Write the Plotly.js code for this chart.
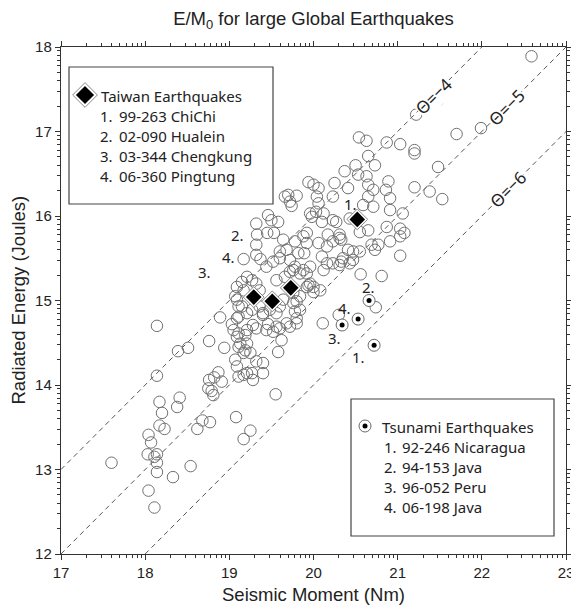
<!DOCTYPE html>
<html><head><meta charset="utf-8">
<script src="https://cdn.plot.ly/plotly-3.0.1.min.js"></script>
<style>html,body{margin:0;padding:0;background:#fff;} #chart{width:571px;height:607px;}</style>
</head><body><div id="chart"></div>
<script>
// ---- data: other global earthquakes (log10 M0 [Nm], log10 E [J]) ----
const otherX = [
17.60,18.04,18.07,18.03,18.14,18.11,18.14,18.14,18.04,18.11,18.33,18.54,18.17,18.23,18.20,18.38,18.17,18.41,18.62,18.68,
18.77,19.08,19.17,19.25,18.14,18.39,18.51,18.14,18.76,18.89,18.94,18.76,18.82,18.87,18.75,18.79,18.91,18.81,19.55,
19.11,19.05,19.09,19.13,19.19,19.25,19.09,19.17,19.27,19.28,19.40,19.40,19.32,19.40,19.44,19.62,19.56,19.68,19.80,19.78,
20.11,20.30,19.03,19.11,19.21,19.46,19.52,19.60,19.72,19.80,19.09,19.19,19.11,19.21,19.28,19.17,19.32,19.07,19.21,19.11,
19.58,19.11,19.21,19.27,19.36,19.40,19.48,19.56,19.60,19.64,19.76,19.84,19.15,19.09,19.07,19.09,19.15,19.17,19.21,19.27,
19.32,19.36,
19.53,19.45,19.58,19.72,19.64,19.68,19.60,19.33,19.32,19.32,19.37,19.17,19.44,19.52,19.60,19.72,19.78,19.82,19.89,19.92,
19.88,19.94,20.00,19.72,19.66,19.56,19.32,19.46,19.78,19.50,19.66,19.70,19.80,20.00,20.06,20.06,20.03,19.96,20.10,19.92,
19.74,20.04,20.12,20.23,20.27,19.98,20.43,20.55,20.65,20.87,21.03,21.08,20.17,20.31,20.33,20.77,20.91,19.88,20.54,20.63,
20.87,21.03,20.65,20.73,20.50,20.53,20.37,20.63,20.65,20.71,20.89,20.86,20.91,20.65,20.71,20.59,20.91,21.06,20.41,20.25,
20.23,19.94,
22.59,21.48,21.22,21.70,21.99,21.20,21.20,21.48,21.20,21.38,21.53,21.03,21.03,20.81,20.56,20.69,20.73,20.47,20.47,20.35,
20.23,20.31,20.10,20.06,20.16,20.23,20.31,19.92,19.92,20.08,20.55,20.41,20.16,20.33,20.43,19.96,20.12,19.84,19.76,19.96,
19.76,19.80,19.84,20.74,20.00
];
const otherY = [
13.08,13.41,13.32,13.18,13.18,13.15,13.08,12.97,12.75,12.55,12.91,13.04,13.52,13.48,13.67,13.74,13.80,13.85,13.48,13.58,
13.56,13.62,13.36,13.46,14.70,14.40,14.44,14.11,14.52,14.80,14.44,14.06,14.09,14.15,13.96,13.93,14.04,13.88,13.89,
14.93,14.65,14.57,14.49,14.41,14.38,14.22,14.12,14.14,14.06,14.26,14.14,14.67,14.85,14.65,14.53,14.69,14.73,14.73,14.87,
14.73,14.83,14.72,14.61,14.65,14.72,14.63,14.67,14.69,14.79,14.79,14.59,14.45,14.49,14.71,14.38,14.28,14.30,14.14,14.10,
14.39,14.81,14.85,14.89,14.93,14.83,14.89,14.85,14.93,15.01,14.97,15.05,14.93,15.01,15.05,15.16,15.22,15.12,15.28,15.24,
15.20,15.12,
15.80,15.80,15.93,16.17,15.72,15.60,15.58,15.78,15.66,15.54,15.49,15.49,15.40,15.46,15.50,15.48,15.40,15.56,15.56,15.68,
15.36,15.18,15.16,15.34,15.28,15.24,15.91,16.01,15.70,15.95,16.23,16.25,16.24,16.37,16.33,16.15,16.05,16.03,15.93,15.80,
16.12,16.23,16.03,15.95,15.93,15.99,15.97,15.81,15.83,15.87,15.85,15.80,15.78,15.78,15.72,15.66,15.70,15.76,16.93,16.89,
16.87,16.85,16.71,16.60,16.60,16.49,16.53,16.47,16.37,16.31,16.41,16.31,16.21,16.23,16.11,16.13,16.07,16.03,16.33,16.39,
16.23,16.40,
17.89,17.37,17.20,16.97,17.04,16.78,16.74,16.58,16.34,16.29,16.20,15.76,15.53,15.29,15.31,15.66,15.60,15.48,15.58,15.50,
15.44,15.42,15.52,15.68,15.64,15.70,15.74,15.32,15.16,15.12,15.58,15.60,15.44,15.46,15.44,15.40,15.36,15.32,15.36,15.20,
15.09,14.99,14.89,14.92,15.10
];
// Taiwan earthquakes (1..4)
const taiwanX = [20.52, 19.29, 19.51, 19.73];
const taiwanY = [15.96, 15.04, 14.99, 15.15];
const taiwanNames = ['99-263 ChiChi', '02-090 Hualein', '03-344 Chengkung', '06-360 Pingtung'];
const taiwanLabelX = [20.44, 19.10, 18.71, 18.99];
const taiwanLabelY = [16.14, 15.78, 15.34, 15.51];
// Tsunami earthquakes (1..4)
const tsunamiX = [20.72, 20.66, 20.34, 20.53];
const tsunamiY = [14.47, 15.00, 14.71, 14.78];
const tsunamiNames = ['92-246 Nicaragua', '94-153 Java', '96-052 Peru', '06-198 Java'];
const tsunamiLabelX = [20.54, 20.65, 20.25, 20.37];
const tsunamiLabelY = [14.33, 15.16, 14.56, 14.91];
// Theta reference lines: log10(E/M0) = theta
const thetas = [-4, -5, -6];
const thetaLabelX = [21.42, 22.29, 22.31];
// axes
const xRange = [17, 23];
const yRange = [12, 18];
const xTickVals = [17, 18, 19, 20, 21, 22, 23];
const yTickVals = [12, 13, 14, 15, 16, 17, 18];

// ---- build ----
const TXT = '"Noto Sans", "Open Sans", sans-serif';
const HEL = '"Liberation Sans", Arial, sans-serif';
function logMinor(a, b) { const v = []; for (let d = a; d < b; d++) for (let k = 2; k <= 9; k++) v.push(d + Math.log10(k)); return v; }

const traces = [];
thetas.forEach(t => {
  const x0 = Math.max(xRange[0], yRange[0] - t), x1 = Math.min(xRange[1], yRange[1] - t);
  traces.push({x: [x0, x1], y: [x0 + t, x1 + t], mode: 'lines', hoverinfo: 'skip', showlegend: false,
    line: {color: '#555', width: 1, dash: '5px,4px'}});
});
traces.push({x: otherX, y: otherY, mode: 'markers', showlegend: false,
  marker: {symbol: 'circle', size: 11.5, color: 'rgba(0,0,0,0)', line: {color: '#707070', width: 1}}});
// Taiwan: outer ring + black diamond
traces.push({x: taiwanX, y: taiwanY, mode: 'markers', showlegend: false,
  marker: {symbol: 'diamond', size: 16, color: '#fff', line: {color: '#888', width: 1}}});
traces.push({x: taiwanX, y: taiwanY, mode: 'markers', showlegend: false,
  marker: {symbol: 'diamond', size: 12, color: '#000', line: {width: 0}}});
// Tsunami: circle + dot
traces.push({x: tsunamiX, y: tsunamiY, mode: 'markers', showlegend: false,
  marker: {symbol: 'circle', size: 12, color: '#fff', line: {color: '#6a6a6a', width: 1}}});
traces.push({x: tsunamiX, y: tsunamiY, mode: 'markers', showlegend: false,
  marker: {symbol: 'circle', size: 5, color: '#000', line: {width: 0}}});

// legend icons on an overlay axis (paper-like 0..1)
const px2x = p => (p - 61) / 505;
const px2y = p => (554 - p) / 507;
traces.push({x: [px2x(85)], y: [px2y(95)], xaxis: 'x2', yaxis: 'y2', mode: 'markers', showlegend: false, hoverinfo: 'skip',
  marker: {symbol: 'diamond', size: 19, color: '#fff', line: {color: '#888', width: 1}}});
traces.push({x: [px2x(85)], y: [px2y(95)], xaxis: 'x2', yaxis: 'y2', mode: 'markers', showlegend: false, hoverinfo: 'skip',
  marker: {symbol: 'diamond', size: 14, color: '#000'}});
traces.push({x: [px2x(365)], y: [px2y(426)], xaxis: 'x2', yaxis: 'y2', mode: 'markers', showlegend: false, hoverinfo: 'skip',
  marker: {symbol: 'circle', size: 12, color: '#fff', line: {color: '#6a6a6a', width: 1}}});
traces.push({x: [px2x(365)], y: [px2y(426)], xaxis: 'x2', yaxis: 'y2', mode: 'markers', showlegend: false, hoverinfo: 'skip',
  marker: {symbol: 'circle', size: 5, color: '#000'}});

const ann = [];
const txtFont = {family: TXT, size: 15, color: '#222'};
// in-plot number labels
taiwanLabelX.forEach((x, i) => ann.push({x, y: taiwanLabelY[i], text: (i + 1) + '.', showarrow: false, font: txtFont}));
tsunamiLabelX.forEach((x, i) => ann.push({x, y: tsunamiLabelY[i], text: (i + 1) + '.', showarrow: false, font: txtFont}));
// theta labels
thetas.forEach((t, i) => ann.push({x: thetaLabelX[i], y: thetaLabelX[i] + t, text: 'Θ=−' + (-t), showarrow: false,
  textangle: -45, bgcolor: '#fff', font: {family: TXT, size: 17, color: '#222'}, borderpad: 0}));
// legend boxes text
function legendBlock(header, names, hx, hy, nx, tx) {
  ann.push({xref: 'paper', yref: 'paper', x: px2x(hx), y: px2y(hy), xanchor: 'left', yanchor: 'middle', text: header, showarrow: false, font: txtFont});
  names.forEach((n, i) => {
    const yy = px2y(hy + 20 * (i + 1));
    ann.push({xref: 'paper', yref: 'paper', x: px2x(nx), y: yy, xanchor: 'left', yanchor: 'middle', text: (i + 1) + '.', showarrow: false, font: txtFont});
    ann.push({xref: 'paper', yref: 'paper', x: px2x(tx), y: yy, xanchor: 'left', yanchor: 'middle', text: n, showarrow: false, font: txtFont});
  });
}
legendBlock('Taiwan Earthquakes', taiwanNames, 99, 96, 98, 117);
legendBlock('Tsunami Earthquakes', tsunamiNames, 380, 427, 382, 400);
// axis titles
ann.push({xref: 'paper', yref: 'paper', x: 0.5, y: px2y(594), yanchor: 'middle', text: 'Seismic Moment (Nm)', showarrow: false,
  font: {family: HEL, size: 18.5, color: '#222'}});
ann.push({xref: 'paper', yref: 'paper', x: px2x(18), y: 0.5, xanchor: 'center', text: 'Radiated Energy (Joules)', textangle: -90, showarrow: false,
  font: {family: HEL, size: 18.5, color: '#222'}});

const shapes = [
  {type: 'rect', xref: 'paper', yref: 'paper', x0: px2x(69), x1: px2x(273), y0: px2y(204), y1: px2y(67), line: {color: '#444', width: 1.2}, fillcolor: '#fff', layer: 'below'},
  {type: 'rect', xref: 'paper', yref: 'paper', x0: px2x(351), x1: px2x(554), y0: px2y(536), y1: px2y(399), line: {color: '#444', width: 1.2}, fillcolor: '#fff', layer: 'below'}
];

const axCommon = {showgrid: false, zeroline: false, ticks: 'outside', ticklen: 5, tickwidth: 1, tickcolor: '#333',
  linecolor: '#333', linewidth: 1.2, mirror: 'ticks', tickfont: {family: HEL, size: 15, color: '#222'}, fixedrange: true,
  ticklabeloverflow: 'allow'};
const layout = {
  width: 571, height: 607,
  margin: {l: 61, r: 5, t: 47, b: 53},
  paper_bgcolor: '#fff', plot_bgcolor: '#fff',
  title: {text: 'E/M<sub>0</sub> for large Global Earthquakes', font: {family: HEL, size: 18.5, color: '#222'},
    x: 0.5, xref: 'paper', y: 1 - 19 / 607, yref: 'container', yanchor: 'middle'},
  xaxis: Object.assign({}, axCommon, {range: xRange, tickmode: 'array', tickvals: xTickVals,
    minor: {tickmode: 'array', tickvals: logMinor(17, 23), ticks: 'outside', ticklen: 3, tickcolor: '#333'}}),
  yaxis: Object.assign({}, axCommon, {range: yRange, tickmode: 'array', tickvals: yTickVals,
    minor: {tickmode: 'array', tickvals: logMinor(12, 18), ticks: 'outside', ticklen: 3, tickcolor: '#333'}}),
  xaxis2: {overlaying: 'x', range: [0, 1], visible: false, fixedrange: true},
  yaxis2: {overlaying: 'y', range: [0, 1], visible: false, fixedrange: true},
  annotations: ann, shapes: shapes, showlegend: false
};
Plotly.newPlot('chart', traces, layout, {staticPlot: true, displayModeBar: false});
</script></body></html>
